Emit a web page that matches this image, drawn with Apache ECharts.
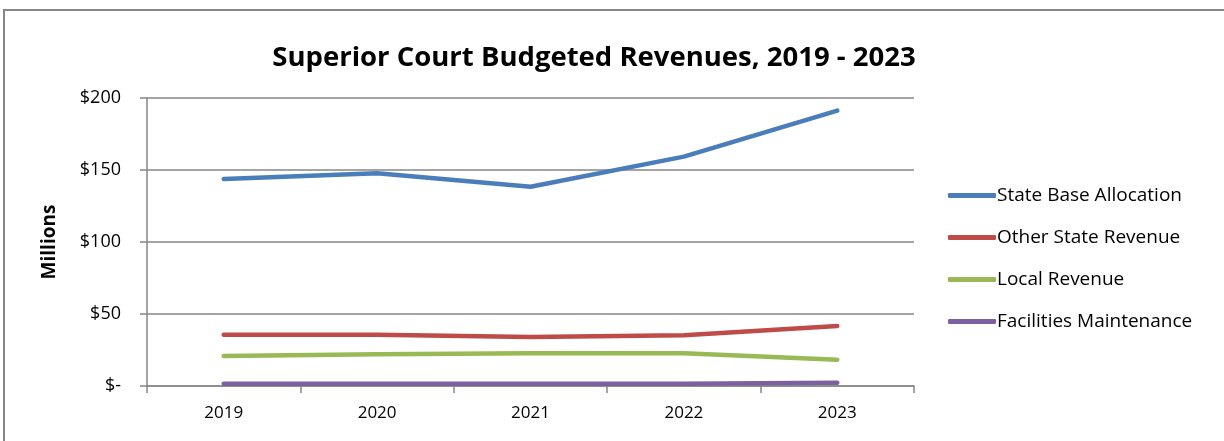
<!DOCTYPE html>
<html><head><meta charset="utf-8">
<script src="https://cdn.jsdelivr.net/npm/echarts@6/dist/echarts.min.js"></script>
<style>html,body{margin:0;padding:0;background:#fff}#c{width:1224px;height:441px}</style>
</head><body><div id="c"></div>
<script>
const years = ['2019','2020','2021','2022','2023'];
const stateBase = [143.8, 147.7, 138.4, 159.3, 191.2];
const otherState = [35.6, 35.6, 34.0, 35.2, 41.7];
const localRev = [20.8, 22.0, 22.7, 22.7, 18.3];
const facilities = [1.5, 1.5, 1.5, 1.6, 2.3];
const seriesNames = ['State Base Allocation','Other State Revenue','Local Revenue','Facilities Maintenance'];
const colors = ['#4A7EBB','#BE4B48','#98B954','#7D60A0'];
const F = "'Open Sans', sans-serif";
const chart = echarts.init(document.getElementById('c'));
const mk = (name, data, i) => ({
  name, type:'line', data, symbol:'none', smooth:false,
  lineStyle:{width:4.5, color:colors[i], cap:'round', join:'round'},
  itemStyle:{color:colors[i]}
});
chart.setOption({
  animation:false,
  title:{text:'Superior Court Budgeted Revenues, 2019 - 2023', left:589, textAlign:'center', top:39,
    textStyle:{fontFamily:F, fontSize:27.5, fontWeight:'bold', color:'#000'}},
  graphic:[{type:'rect', shape:{x:4,y:10,width:1240,height:460}, style:{fill:'none', stroke:'#868686', lineWidth:2}, silent:true}],
  grid:{left:147, right:310, top:98, bottom:55},
  legend:{orient:'vertical', left:943, top:181, itemGap:23, itemWidth:48, itemHeight:5,
    icon:'roundRect',
    textStyle:{fontFamily:F, fontSize:19, color:'#000', padding:[0,0,0,-4]},
    data:seriesNames},
  xAxis:{type:'category', data:years, boundaryGap:true,
    axisLine:{lineStyle:{color:'#868686', width:1.5}},
    axisTick:{show:true, length:7, lineStyle:{color:'#868686', width:1.5}},
    axisLabel:{fontFamily:F, fontSize:17, color:'#000', margin:19}},
  yAxis:{type:'value', min:0, max:200, interval:50,
    name:'Millions', nameLocation:'middle', nameGap:88, nameRotate:90,
    nameTextStyle:{fontFamily:F, fontSize:19, fontWeight:'bold', color:'#000'},
    axisLine:{show:true, lineStyle:{color:'#868686', width:1.5}},
    axisTick:{show:true, length:7, lineStyle:{color:'#868686', width:1.5}},
    splitLine:{lineStyle:{color:'#868686', width:1.5}},
    axisLabel:{fontFamily:F, fontSize:18, color:'#000', margin:26, formatter:v=> v===0?'$-':'$'+v}},
  series:[mk(seriesNames[0],stateBase,0), mk(seriesNames[1],otherState,1), mk(seriesNames[2],localRev,2), mk(seriesNames[3],facilities,3)]
});
</script></body></html>
